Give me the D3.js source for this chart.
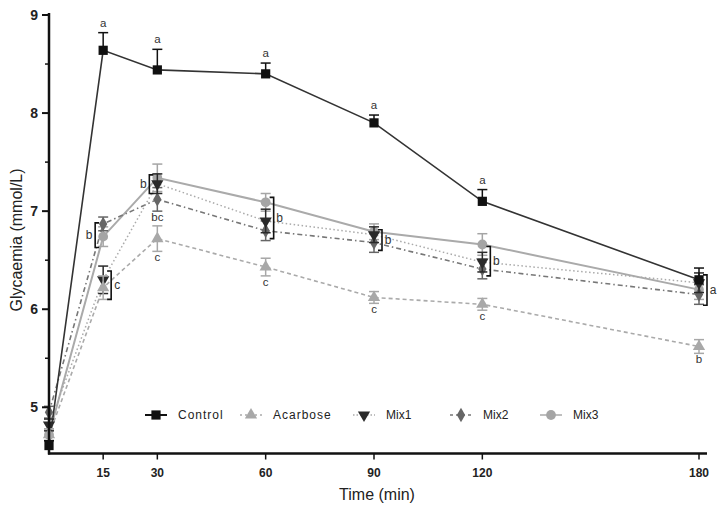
<!DOCTYPE html>
<html><head><meta charset="utf-8">
<script src="https://cdn.jsdelivr.net/npm/d3@7"></script>
<style>body{margin:0;background:#fff}svg{display:block}</style>
</head><body>
<svg id="c" width="726" height="519"></svg>
<script>
const times = [0, 15, 30, 60, 90, 120, 180];
const xTicks = [15, 30, 60, 90, 120, 180];
const yTicks = [5, 6, 7, 8, 9];
const yMinor = [5.5, 6.5, 7.5, 8.5];
const seriesNames = ["Control", "Acarbose", "Mix1", "Mix2", "Mix3"];
const control  = [4.61, 8.64, 8.44, 8.40, 7.90, 7.10, 6.30];
const acarbose = [4.72, 6.22, 6.72, 6.43, 6.12, 6.05, 5.62];
const mix1     = [4.82, 6.30, 7.28, 6.90, 6.76, 6.48, 6.27];
const mix2     = [4.95, 6.87, 7.12, 6.80, 6.68, 6.41, 6.15];
const mix3     = [4.72, 6.74, 7.34, 7.09, 6.79, 6.66, 6.20];
const controlErr  = [0.05, 0.18, 0.21, 0.11, 0.08, 0.12, 0.12];
const acarboseErr = [0.06, 0.12, 0.13, 0.09, 0.06, 0.06, 0.07];
const mix1Err     = [0.06, 0.14, 0.10, 0.12, 0.08, 0.10, 0.10];
const mix2Err     = [0.06, 0.07, 0.12, 0.10, 0.10, 0.10, 0.10];
const mix3Err     = [0.06, 0.10, 0.14, 0.09, 0.08, 0.11, 0.10];
// significance letters: [time, value, label]
const letters = [
  [15, 8.82, "a"], [30, 8.65, "a"], [60, 8.51, "a"], [90, 7.98, "a"], [120, 7.22, "a"],
  [30, 7.00, "bc"], [30, 6.59, "c"], [60, 6.34, "c"], [90, 6.06, "c"], [120, 5.99, "c"], [180, 5.55, "b"]
];
// brackets: [time, low, high, side, label]
const brackets = [
  [15, 6.63, 6.88, "left", "b"], [15, 6.10, 6.39, "right", "c"],
  [30, 7.18, 7.37, "left", "b"], [60, 6.72, 7.14, "right", "b"],
  [90, 6.60, 6.81, "right", "b"], [120, 6.34, 6.64, "right", "b"],
  [180, 6.04, 6.35, "right", "a"]
];

const svg = d3.select("#c");
const x = d3.scaleLinear().domain([0, 180]).range([49, 699]);
const y = d3.scaleLinear().domain([5, 9]).range([407.3, 15]);
const yBottom = 453.5;
const FONT = "Liberation Sans, Arial, sans-serif";

const styles = {
  Control:  {color: "#111", line: "#333", dash: null, w: 1.6, sym: d3.symbolSquare, size: 85, up: true},
  Acarbose: {color: "#a8a8a8", line: "#aaa", dash: "4,3", w: 1.6, sym: d3.symbolTriangle, size: 65},
  Mix1:     {color: "#2a2a2a", line: "#aaa", dash: "1.5,2.5", w: 1.5, sym: d3.symbolTriangle, size: 65, rot: 180},
  Mix2:     {color: "#666", line: "#777", dash: "5,3,1.5,3", w: 1.6, sym: d3.symbolDiamond, size: 60},
  Mix3:     {color: "#a5a5a5", line: "#aaa", dash: null, w: 2, sym: d3.symbolCircle, size: 75}
};
const data = [control, acarbose, mix1, mix2, mix3];
const errs = [controlErr, acarboseErr, mix1Err, mix2Err, mix3Err];
const order = [4, 3, 2, 1, 0];

const line = d3.line().x((d, i) => x(times[i])).y(d => y(d));

order.forEach(k => {
  const st = styles[seriesNames[k]];
  svg.append("path").attr("d", line(data[k])).attr("fill", "none")
    .attr("stroke", st.line).attr("stroke-width", st.w)
    .attr("stroke-dasharray", st.dash);
});
order.forEach(k => {
  const st = styles[seriesNames[k]];
  const g = svg.append("g");
  data[k].forEach((v, i) => {
    const cx = x(times[i]), e = errs[k][i];
    const y1 = y(v + e), y2 = st.up ? y(v) : y(v - e);
    g.append("line").attr("x1", cx).attr("x2", cx).attr("y1", y1).attr("y2", y2)
      .attr("stroke", st.color).attr("stroke-width", 1.5);
    (st.up ? [y1] : [y1, y2]).forEach(yy => g.append("line").attr("x1", cx - 5).attr("x2", cx + 5)
      .attr("y1", yy).attr("y2", yy).attr("stroke", st.color).attr("stroke-width", 1.5));
    g.append("path").attr("d", d3.symbol().type(st.sym).size(st.size)())
      .attr("transform", `translate(${cx},${y(v)}) rotate(${st.rot || 0})`)
      .attr("fill", st.color);
  });
});

// axes
const yAxis = svg.append("g").attr("transform", "translate(49,0)");
yAxis.append("line").attr("x1", 0).attr("x2", 0).attr("y1", 13).attr("y2", yBottom + 1)
  .attr("stroke", "#111").attr("stroke-width", 2.5);
yTicks.forEach(t => {
  yAxis.append("line").attr("x1", -7).attr("x2", 0).attr("y1", y(t)).attr("y2", y(t))
    .attr("stroke", "#111").attr("stroke-width", 2);
  yAxis.append("text").attr("x", -11).attr("y", y(t)).attr("dy", "0.36em")
    .attr("text-anchor", "end").attr("font-family", FONT)
    .attr("font-weight", "bold").attr("font-size", 14).attr("fill", "#222").text(t);
});
yMinor.forEach(t => yAxis.append("line").attr("x1", -4).attr("x2", 0).attr("y1", y(t)).attr("y2", y(t))
  .attr("stroke", "#111").attr("stroke-width", 1.5));

const xAxis = svg.append("g").attr("transform", `translate(0,${yBottom})`);
xAxis.append("line").attr("x1", 48).attr("x2", 707).attr("y1", 0).attr("y2", 0)
  .attr("stroke", "#111").attr("stroke-width", 2.5);
xTicks.forEach(t => {
  xAxis.append("line").attr("x1", x(t)).attr("x2", x(t)).attr("y1", 0).attr("y2", 6)
    .attr("stroke", "#111").attr("stroke-width", 1.5);
  xAxis.append("text").attr("x", x(t)).attr("y", 23).attr("text-anchor", "middle")
    .attr("font-family", FONT).attr("font-weight", "bold")
    .attr("font-size", 12).attr("fill", "#222").text(t);
});
svg.append("text").attr("x", 377).attr("y", 500).attr("text-anchor", "middle")
  .attr("font-family", FONT).attr("font-size", 16).attr("fill", "#222")
  .text("Time (min)");
svg.append("text").attr("transform", "translate(22,240) rotate(-90)").attr("text-anchor", "middle")
  .attr("font-family", FONT).attr("font-size", 16).attr("fill", "#222")
  .text("Glycaemia (mmol/L)");

letters.forEach(([t, v, lab]) => {
  const below = lab !== "a";
  svg.append("text").attr("x", x(t)).attr("y", below ? y(v) + 10 : y(v) - 6)
    .attr("text-anchor", "middle").attr("font-family", FONT)
    .attr("font-size", 11.5).attr("fill", "#333").text(lab);
});
brackets.forEach(([t, lo, hi, side, lab]) => {
  const s = side === "left" ? -1 : 1;
  const bx = x(t) + s * 8;
  const yt = y(hi), yb = y(lo);
  svg.append("path").attr("d", `M${bx - s * 4},${yt}H${bx}V${yb}H${bx - s * 4}`)
    .attr("fill", "none").attr("stroke", "#111").attr("stroke-width", 1.6);
  svg.append("text").attr("x", bx + s * 6).attr("y", (yt + yb) / 2).attr("dy", "0.35em")
    .attr("text-anchor", "middle").attr("font-family", FONT)
    .attr("font-size", 12).attr("fill", "#333").text(lab);
});

const legX = [145, 240, 353, 450, 540];
const legend = svg.append("g").attr("transform", "translate(0,415)");
seriesNames.forEach((n, k) => {
  const st = styles[n];
  const lx = legX[k];
  legend.append("line").attr("x1", lx).attr("x2", lx + 22).attr("y1", 0).attr("y2", 0)
    .attr("stroke", k === 0 ? "#111" : st.line).attr("stroke-width", k === 0 ? 2 : 1.5)
    .attr("stroke-dasharray", k === 1 ? "2,3" : (k === 2 ? "1.5,2" : (k === 3 ? "3,3" : null)));
  legend.append("path").attr("d", d3.symbol().type(st.sym).size(st.size)())
    .attr("transform", `translate(${lx + 11},0) rotate(${st.rot || 0})`).attr("fill", st.color);
  legend.append("text").attr("x", lx + 33).attr("y", 0).attr("dy", "0.35em")
    .attr("font-family", FONT).attr("font-size", 12)
    .attr("letter-spacing", k === 0 || k === 1 ? "1px" : "0px")
    .attr("fill", "#222").text(n);
});
</script>
</body></html>
